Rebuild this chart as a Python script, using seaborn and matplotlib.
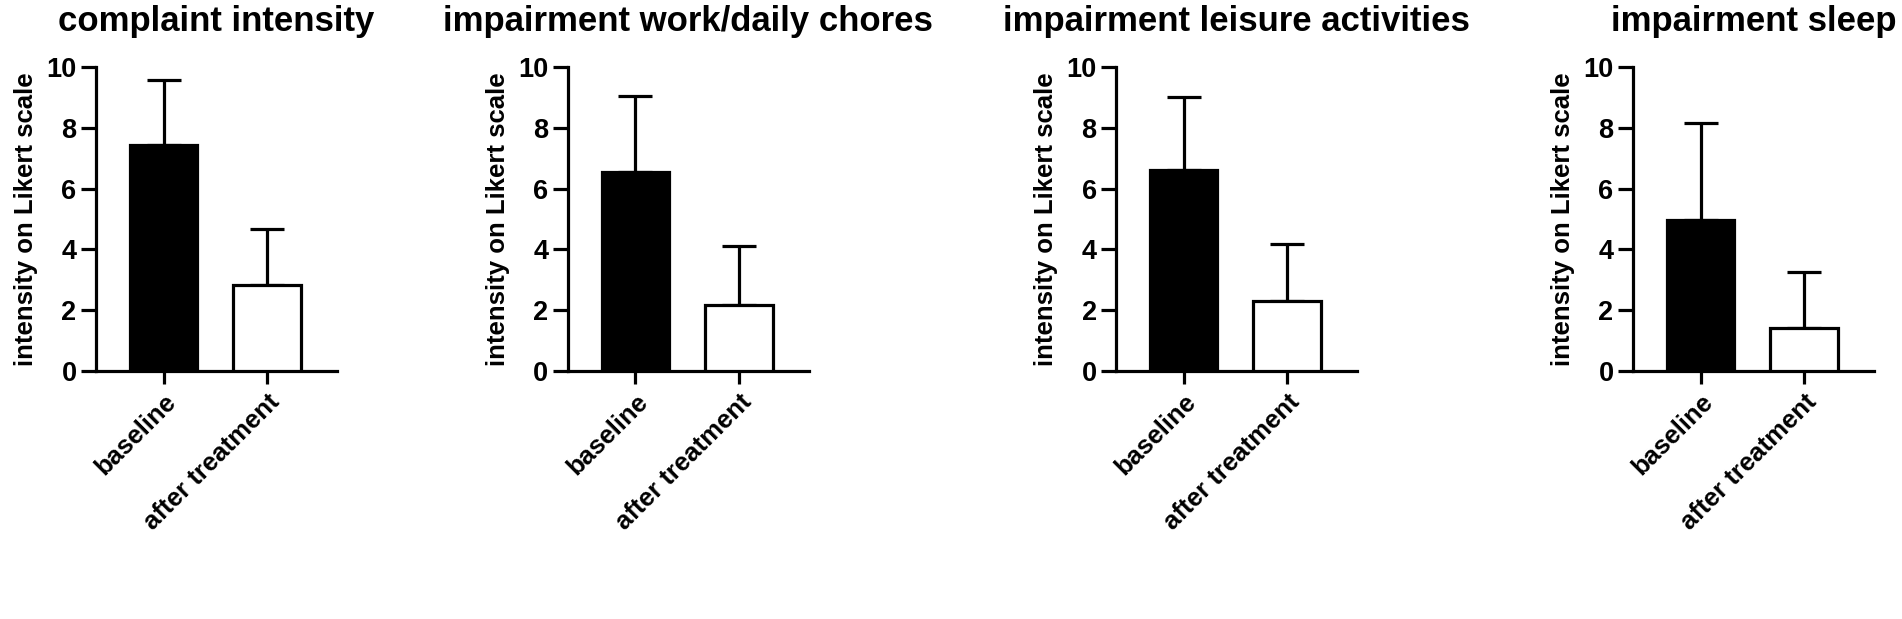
import matplotlib
matplotlib.use("Agg")
import matplotlib.pyplot as plt
import seaborn as sns
import pandas as pd

# values (mean and upward SD)
groups = ["baseline", "after treatment"]
titles = ["complaint intensity", "impairment work/daily chores",
          "impairment leisure activities", "impairment sleep"]
means = [[7.45, 2.82], [6.55, 2.18], [6.63, 2.32], [4.96, 1.42]]
sds = [[2.13, 1.85], [2.50, 1.93], [2.38, 1.86], [3.19, 1.84]]
yticks = [0, 2, 4, 6, 8, 10]

sns.set_style("white")
plt.rcParams["font.family"] = ["Liberation Sans", "DejaVu Sans"]
plt.rcParams["font.weight"] = "bold"
plt.rcParams["text.color"] = "black"
plt.rcParams["axes.labelcolor"] = "black"
plt.rcParams["xtick.color"] = "black"
plt.rcParams["ytick.color"] = "black"

fig = plt.figure(figsize=(19.02, 6.19), dpi=100)
lefts = [0.0505, 0.2986, 0.5868, 0.8586]
lw = 2.3

for i in range(4):
    ax = fig.add_axes([lefts[i], 0.4006, 0.1267, 0.491])
    df = pd.DataFrame({"group": groups, "mean": means[i]})
    sns.barplot(data=df, x="group", y="mean", hue="group",
                palette=["black", "white"], edgecolor="black",
                linewidth=lw, width=0.65, legend=False, ax=ax, zorder=3)
    ax.errorbar(range(len(groups)), means[i],
                yerr=[[0] * len(groups), sds[i]], fmt="none",
                ecolor="black", elinewidth=lw, capsize=12, capthick=lw,
                zorder=2)
    ax.set_xlim(-0.652, 1.676)
    ax.set_ylim(0, 10)
    ax.set_yticks(yticks)
    ax.set_ylabel("intensity on Likert scale", fontsize=18.5,
                  fontweight="bold", labelpad=6)
    ax.set_xlabel("")
    ax.set_title(titles[i], fontsize=25, fontweight="bold", pad=26)
    sns.despine(ax=ax)
    for side in ["left", "bottom"]:
        ax.spines[side].set_linewidth(lw)
        ax.spines[side].set_color("black")
    ax.tick_params(axis="y", length=11, width=lw, labelsize=19.5,
                   left=True, pad=3)
    ax.tick_params(axis="x", length=9.5, width=lw, labelsize=18.5,
                   bottom=True, pad=4)
    for lab in ax.get_yticklabels():
        lab.set_fontweight("bold")
    ax.set_xticks(range(len(groups)))
    ax.set_xticklabels(groups, rotation=45, ha="right",
                       rotation_mode="anchor", fontweight="bold")
    ax.grid(False)

fig.savefig("out.png", dpi=100, facecolor="white")
